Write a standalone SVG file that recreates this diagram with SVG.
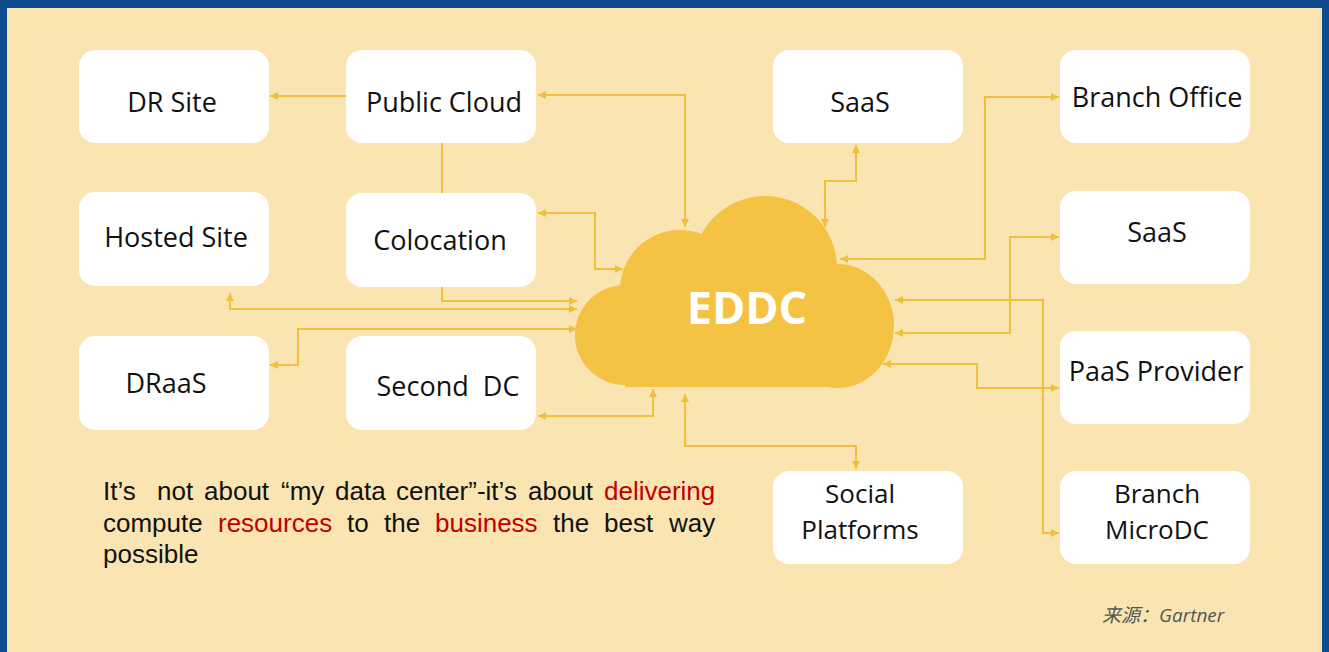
<svg xmlns="http://www.w3.org/2000/svg" width="1329" height="652" viewBox="0 0 1329 652">
<defs>
<marker id="ah" viewBox="0 0 10 10" refX="10" refY="5" markerWidth="9" markerHeight="8" markerUnits="userSpaceOnUse" orient="auto-start-reverse"><path d="M0,0 L10,5 L0,10 z" fill="#f2bf3c"/></marker>
<style>
.box{fill:#ffffff}
.lbl{font-family:"Open Sans","Noto Sans",sans-serif;font-size:27px;fill:#111;text-anchor:middle}
.lbl2{font-family:"Open Sans","Noto Sans",sans-serif;font-size:26px;fill:#111;text-anchor:middle}
.c{fill:none;stroke:#f2bf3c;stroke-width:2}
.ab{marker-start:url(#ah);marker-end:url(#ah)}
.ae{marker-end:url(#ah)}
.para{font-family:"Liberation Sans",Arial,sans-serif;font-size:26px;fill:#111}
.red{fill:#c00000}
</style>
</defs>
<rect x="0" y="0" width="1329" height="652" fill="#fae5b2"/>
<rect x="0" y="0" width="1329" height="8" fill="#0f4c8d"/>
<rect x="0" y="0" width="7" height="652" fill="#0f4c8d"/>
<rect x="1322" y="0" width="7" height="652" fill="#0f4c8d"/>

<g id="connectors">
<path class="c ae" d="M346,96 H270"/>
<path class="c ab" d="M538,95 H685 V227"/>
<path class="c" d="M442,143 V193"/>
<path class="c ae" d="M442,287 V301 H577"/>
<path class="c ab" d="M230,293 V309 H577"/>
<path class="c ab" d="M538,213 H595 V269 H623"/>
<path class="c ab" d="M270,365 H298 V329 H577"/>
<path class="c ab" d="M538,416 H653 V389"/>
<path class="c ab" d="M685,394 V446 H856 V469"/>
<path class="c ab" d="M856,145 V181 H825 V227"/>
<path class="c ab" d="M1059,97 H985 V259 H840"/>
<path class="c ab" d="M1059,237 H1010 V333 H895"/>
<path class="c ab" d="M895,300 H1043 V533 H1059"/>
<path class="c ab" d="M883,364 H977 V388 H1059"/>
</g>

<g id="eddc" fill="#f5c343">
<circle cx="625" cy="335" r="50"/>
<circle cx="680" cy="290" r="60"/>
<circle cx="765" cy="268" r="72"/>
<ellipse cx="838" cy="326" rx="56" ry="62"/>
<rect x="625" y="290" width="213" height="97"/>
<text x="747" y="324" font-family="'Open Sans','Noto Sans',sans-serif" font-size="45" font-weight="bold" fill="#ffffff" text-anchor="middle">EDDC</text>
</g>

<g id="dr-site"><rect class="box" x="79" y="50" width="190" height="93" rx="16"/><text class="lbl" x="172" y="112">DR Site</text></g>
<g id="public-cloud"><rect class="box" x="346" y="50" width="190" height="93" rx="16"/><text class="lbl" x="444" y="112">Public Cloud</text></g>
<g id="hosted-site"><rect class="box" x="79" y="192" width="190" height="94" rx="16"/><text class="lbl" x="176" y="247">Hosted Site</text></g>
<g id="colocation"><rect class="box" x="346" y="193" width="190" height="94" rx="16"/><text class="lbl" x="440" y="250">Colocation</text></g>
<g id="draas"><rect class="box" x="79" y="336" width="190" height="94" rx="16"/><text class="lbl" x="166" y="393">DRaaS</text></g>
<g id="second-dc"><rect class="box" x="346" y="336" width="190" height="94" rx="16"/><text class="lbl" x="448" y="396" xml:space="preserve">Second  DC</text></g>
<g id="saas-top"><rect class="box" x="773" y="50" width="190" height="93" rx="16"/><text class="lbl" x="860" y="112">SaaS</text></g>
<g id="branch-office"><rect class="box" x="1060" y="50" width="190" height="93" rx="16"/><text class="lbl" x="1157" y="107">Branch Office</text></g>
<g id="saas-right"><rect class="box" x="1060" y="191" width="190" height="93" rx="16"/><text class="lbl" x="1157" y="242">SaaS</text></g>
<g id="paas-provider"><rect class="box" x="1060" y="331" width="190" height="93" rx="16"/><text class="lbl" x="1156" y="381">PaaS Provider</text></g>
<g id="branch-microdc"><rect class="box" x="1060" y="471" width="190" height="93" rx="16"/><text class="lbl2"><tspan x="1157" y="503">Branch</tspan><tspan x="1157" y="539">MicroDC</tspan></text></g>
<g id="social-platforms"><rect class="box" x="773" y="471" width="190" height="93" rx="16"/><text class="lbl2"><tspan x="860" y="503">Social</tspan><tspan x="860" y="539">Platforms</tspan></text></g>

<g id="caption">
<text class="para" y="500"><tspan x="103">It’s</tspan><tspan x="157">not</tspan><tspan x="204">about</tspan><tspan x="281">“my</tspan><tspan x="335">data</tspan><tspan x="396">center”-it’s</tspan><tspan x="528">about</tspan><tspan x="604" class="red">delivering</tspan></text>
<text class="para" y="532"><tspan x="103">compute</tspan><tspan x="218" class="red">resources</tspan><tspan x="347">to</tspan><tspan x="384">the</tspan><tspan x="435" class="red">business</tspan><tspan x="553">the</tspan><tspan x="604">best</tspan><tspan x="669">way</tspan></text>
<text class="para" x="103" y="563">possible</text>
</g>
<text id="source" x="1102" y="622" font-family="'Open Sans','Noto Sans CJK SC',sans-serif" font-size="19" font-style="italic" fill="#555555">来源：Gartner</text>
</svg>
